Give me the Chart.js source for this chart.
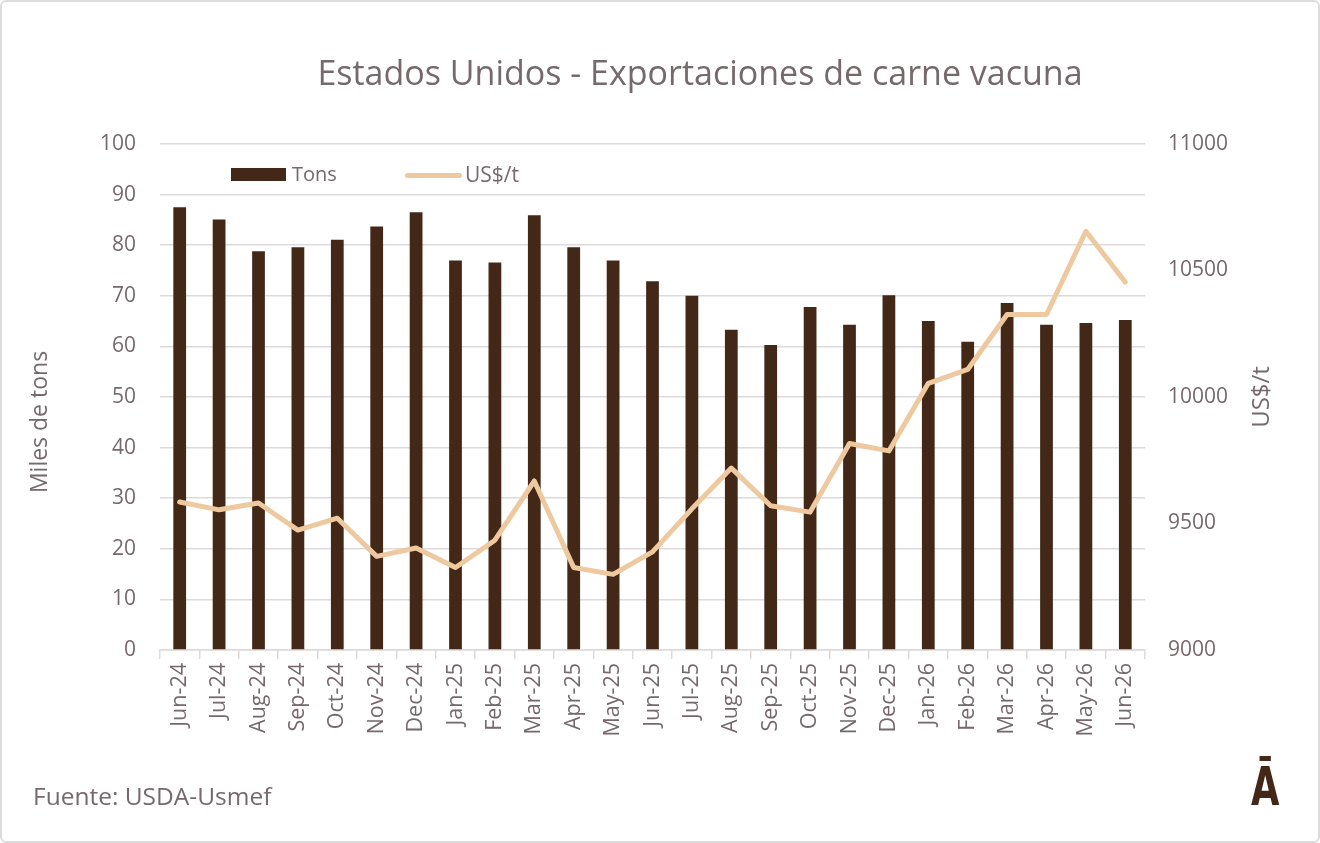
<!DOCTYPE html>
<html>
<head>
<meta charset="utf-8">
<script src="https://cdn.jsdelivr.net/npm/chart.js@4.4.1/dist/chart.umd.min.js"></script>
<style>
  html, body { margin:0; padding:0; background:#fff; }
  #wrap { position:relative; width:1320px; height:843px; overflow:hidden; font-family:"Open Sans","Noto Sans",sans-serif; }
  #frame { position:absolute; left:0; top:0; width:1316px; height:839px; border:2px solid #dcdcdc; border-radius:6px; pointer-events:none; }
  #c { position:absolute; left:0; top:0; }
  #title { position:absolute; left:0; width:1400px; top:49px; text-align:center; font-size:34px; color:#76696c; }
  #legend { position:absolute; top:160px; left:231px; font-size:20px; color:#76696c; }
  .li { position:absolute; top:0; white-space:nowrap; }
  #src { position:absolute; left:33px; top:779px; font-size:24.5px; color:#76696c; }
  #logo { position:absolute; left:1251px; top:760px; font-size:54px; line-height:1; font-weight:bold; color:#432818; font-family:"DejaVu Sans"; transform:scaleX(0.68); transform-origin:left top; }
</style>
</head>
<body>
<div id="wrap">
  <canvas id="c" width="1320" height="843"></canvas>
  <div id="title">Estados Unidos - Exportaciones de carne vacuna</div>
  <div id="legend">
    <div class="li" style="left:0;"><span style="display:inline-block;width:55px;height:13px;background:#432818;vertical-align:middle;margin-right:6px;position:relative;top:-1px"></span>Tons</div>
    <div class="li" style="left:174px;font-size:21px;"><span style="display:inline-block;width:57px;height:5px;border-radius:3px;background:#EEC9A0;vertical-align:middle;margin-right:3px;position:relative;top:-1px"></span>US$/t</div>
  </div>
  <div id="src">Fuente: USDA-Usmef</div>
  <div id="logo">Ā</div>
  <div id="frame"></div>
</div>
<script>
const categories = ["Jun-24","Jul-24","Aug-24","Sep-24","Oct-24","Nov-24","Dec-24","Jan-25","Feb-25","Mar-25","Apr-25","May-25","Jun-25","Jul-25","Aug-25","Sep-25","Oct-25","Nov-25","Dec-25","Jan-26","Feb-26","Mar-26","Apr-26","May-26","Jun-26"];
const tons = [87.5,85.1,78.8,79.6,81.1,83.7,86.5,77.0,76.6,85.9,79.6,77.0,72.9,70.0,63.3,60.3,67.8,64.3,70.1,65.0,60.9,68.6,64.3,64.6,65.2];
const usdPerTon = [9585,9554,9581,9474,9521,9370,9403,9326,9434,9668,9326,9299,9388,9558,9719,9570,9545,9816,9787,10054,10109,10326,10326,10655,10454];
const leftTicks = [0,10,20,30,40,50,60,70,80,90,100];
const rightTicks = [9000,9500,10000,10500,11000];

const txt = "#76696c";
const gridCol = "#dedadb";

const axisTitles = {
  id: "axisTitles",
  afterDraw(chart) {
    const ctx = chart.ctx;
    const draw = (text, x, y, size) => {
      ctx.save();
      ctx.translate(x, y);
      ctx.rotate(-Math.PI/2);
      ctx.fillStyle = txt;
      ctx.font = size + 'px "Open Sans"';
      ctx.textAlign = "center";
      ctx.textBaseline = "middle";
      ctx.fillText(text, 0, 0);
      ctx.restore();
    };
    draw("Miles de tons", 40, 422, 23);
    draw("US$/t", 1262, 397, 24);
  }
};

new Chart(document.getElementById("c"), {
  data: {
    labels: categories,
    datasets: [
      { type:"line", label:"US$/t", data: usdPerTon, yAxisID:"y2", borderColor:"#EEC9A0", backgroundColor:"#EEC9A0",
        borderWidth:5, pointRadius:0, tension:0, borderCapStyle:"round", borderJoinStyle:"round", order:1 },
      { type:"bar", label:"Tons", data: tons, yAxisID:"y", backgroundColor:"#432818",
        barPercentage:0.9, categoryPercentage:0.36, order:2 }
    ]
  },
  options: {
    responsive:false,
    animation:false,
    layout: { padding: { left:0, right:0, top:144, bottom:93 } },
    plugins: { legend:{display:false}, title:{display:false}, tooltip:{enabled:false} },
    scales: {
      x: {
        grid: { offset:true, drawOnChartArea:false, drawTicks:true, tickLength:9, color:gridCol, lineWidth:1.5 },
        border: { display:true, color:gridCol, width:1.5 },
        ticks: { color:txt, font:{ size:21.5, family:"Open Sans" }, minRotation:90, maxRotation:90, padding:4, autoSkip:false },
        afterFit(s){ s.height = 100; }
      },
      y: {
        position:"left", min:0, max:100,
        afterBuildTicks(s){ s.ticks = leftTicks.map(v=>({value:v})); },
        grid: { color:gridCol, lineWidth:1.5, drawTicks:false },
        border: { display:false },
        ticks: { color:txt, font:{ size:21, family:"Open Sans" }, padding:24 },
        afterFit(s){ s.width = 160; }
      },
      y2: {
        position:"right", min:9000, max:11000,
        afterBuildTicks(s){ s.ticks = rightTicks.map(v=>({value:v})); },
        grid: { display:false, drawTicks:false },
        border: { display:false },
        ticks: { color:txt, font:{ size:21, family:"Open Sans" }, padding:23, callback:(v)=>String(v) },
        afterFit(s){ s.width = 175; }
      }
    }
  },
  plugins: [axisTitles]
});
</script>
</body>
</html>
